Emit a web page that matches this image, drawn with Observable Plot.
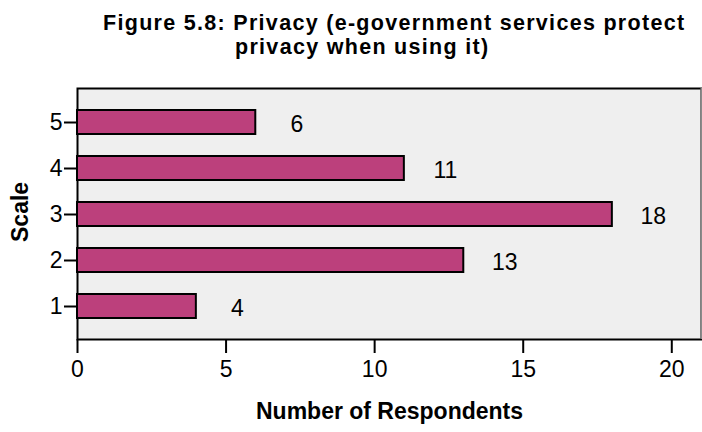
<!DOCTYPE html>
<html>
<head>
<meta charset="utf-8">
<script src="https://cdn.jsdelivr.net/npm/d3@7"></script>
<script src="https://cdn.jsdelivr.net/npm/@observablehq/plot@0.6"></script>
<style>
  html, body { margin: 0; padding: 0; background: #fff; }
  #wrap { position: relative; width: 702px; height: 432px; overflow: hidden; }
  #title { position: absolute; left: 103px; top: 10.5px; font-family: "Liberation Sans", Arial, sans-serif;
       font-weight: bold; font-size: 21.5px; line-height: 24.2px; letter-spacing: 1.3px; color: #000; white-space: nowrap; text-align: left; }
  #title .sp { display: inline-block; width: 132px; height: 1px; }
  #chart { position: absolute; left: 0; top: 68px; }
</style>
</head>
<body>
<div id="wrap">
  <div id="title"></div>
  <div id="chart"></div>
</div>
<script>
const titleLines = ["Figure 5.8: Privacy (e-government services protect", "privacy when using it)"];
const categories = ["5", "4", "3", "2", "1"];
const counts = [6, 11, 18, 13, 4];
const xTicks = [0, 5, 10, 15, 20];
const xLabel = "Number of Respondents";
const yLabel = "Scale";

const t = document.getElementById("title");
t.appendChild(document.createTextNode(titleLines[0]));
t.appendChild(document.createElement("br"));
const sp = document.createElement("span"); sp.className = "sp"; t.appendChild(sp);
t.appendChild(document.createTextNode(titleLines[1]));

const data = categories.map((c, i) => ({scale: c, count: counts[i]}));
const sans = "'Liberation Sans', Arial, sans-serif";

const chart = Plot.plot({
  width: 702,
  height: 364,
  marginTop: 20,
  marginBottom: 93,
  marginLeft: 77,
  marginRight: 1,
  style: {fontFamily: sans, fontSize: "23px", color: "#000", background: "transparent"},
  x: {domain: [0, 21], ticks: xTicks, label: null},
  y: {domain: categories, paddingInner: 0.48, paddingOuter: 0.46, label: null},
  marks: [
    Plot.frame({fill: "#efefef", stroke: "#000", strokeWidth: 2}),
    Plot.ruleX([21], {stroke: "#8a8a8a", strokeWidth: 2}),
    Plot.barX(data, {x: "count", y: "scale", fill: "#bc407c", stroke: "#000", strokeWidth: 2}),
    Plot.text(data, {x: "count", y: "scale", text: d => String(d.count), dx: 41, dy: 2, textAnchor: "middle", fontSize: 23}),
    Plot.axisX({ticks: xTicks, tickSize: 14, tickPadding: 7, strokeWidth: 2, label: null, fontSize: 23}),
    Plot.axisY({tickSize: 13, tickPadding: 2, strokeWidth: 2, label: null, fontSize: 23}),
    Plot.text([xLabel], {frameAnchor: "bottom", dy: 79, fontFamily: sans, fontWeight: "bold", fontSize: 23, letterSpacing: 1.5, text: d => d}),
    Plot.text([yLabel], {frameAnchor: "left", dx: -57, dy: 28, rotate: -90, fontFamily: sans, fontWeight: "bold", fontSize: 23, letterSpacing: 1.5, text: d => d})
  ]
});
document.getElementById("chart").appendChild(chart);
</script>
</body>
</html>
